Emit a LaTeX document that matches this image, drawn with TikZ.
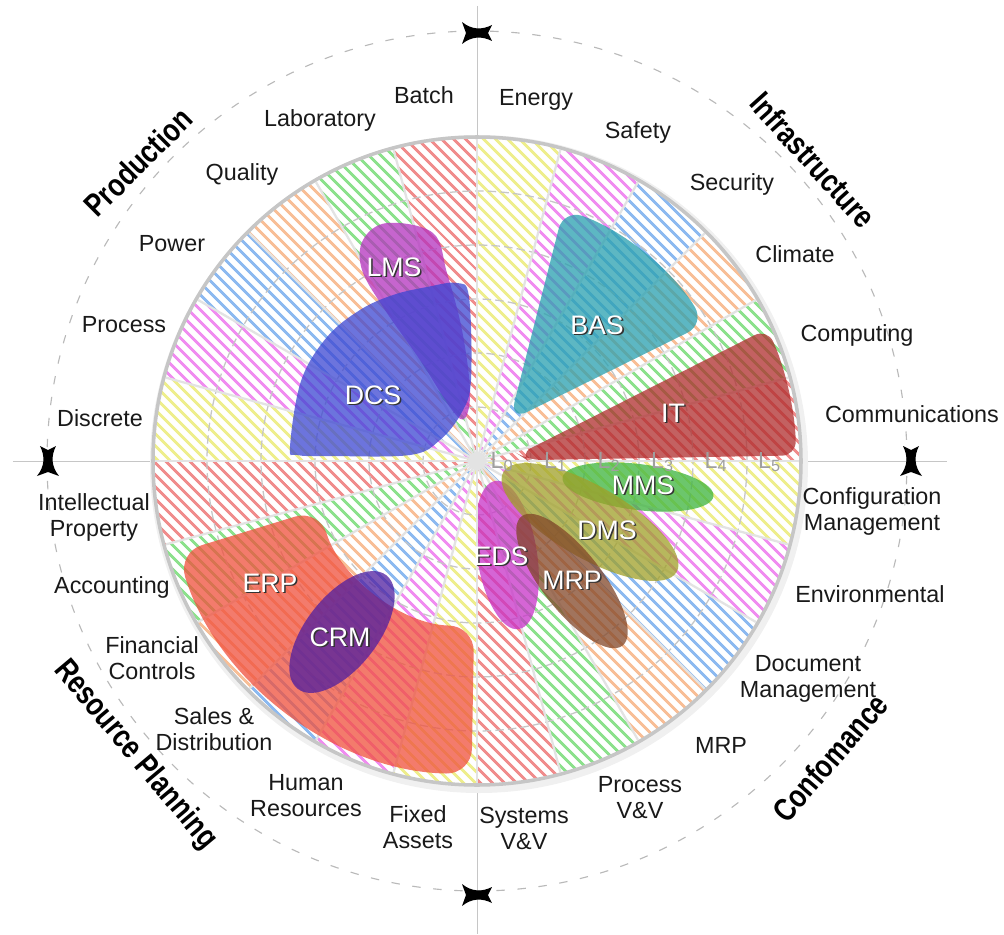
\documentclass[tikz,border=0pt]{standalone}
\usepackage{fontspec}
\setmainfont{Liberation Sans}
\newfontfamily\catfont[FakeStretch=0.81]{Liberation Sans}
\usetikzlibrary{patterns.meta}

\definecolor{hred}{RGB}{240,140,140}
\definecolor{hgreen}{RGB}{140,225,140}
\definecolor{horange}{RGB}{248,190,150}
\definecolor{hblue}{RGB}{140,185,240}
\definecolor{hmagenta}{RGB}{240,140,240}
\definecolor{hyellow}{RGB}{238,238,140}
\definecolor{lmscol}{RGB}{180,50,190}
\definecolor{dcscol}{RGB}{60,70,210}
\definecolor{bascol}{RGB}{40,160,175}
\definecolor{itcol}{RGB}{175,45,45}
\definecolor{mmscol}{RGB}{60,180,60}
\definecolor{dmscol}{RGB}{160,160,40}
\definecolor{mrpcol}{RGB}{130,70,40}
\definecolor{edscol}{RGB}{200,50,200}
\definecolor{erpcol}{RGB}{240,80,60}
\definecolor{crmcol}{RGB}{80,30,160}

\tikzset{
  sector/.style={pattern={Lines[angle=-45,distance=6.5pt,line width=2.3pt]}},
  spoke/.style={draw=gray!22, line width=1.6pt},
  ring/.style={draw=gray!45, line width=0.9pt, dash pattern=on 6pt off 3pt},
  rim/.style={draw=gray!45, line width=2.5pt},
  orbit/.style={draw=gray!55, line width=0.8pt, dash pattern=on 6pt off 9pt},
  axisline/.style={draw=gray!45, line width=0.7pt},
  blob/.style={fill opacity=0.75},
  seclabel/.style={font=\fontsize{16.6}{18.5}\selectfont, align=center, text=black!90},
  catlabel/.style={font=\catfont\bfseries\fontsize{22.8}{26}\selectfont},
  tag/.style={font=\fontsize{19}{22}\selectfont, text=white},
  tagshade/.style={font=\fontsize{19}{22}\selectfont, text=black!80},
  lvl/.style={font=\fontsize{16.5}{18}\selectfont, text=gray!75, inner sep=0pt},
  tiemark/.pic={\fill[black] (-15,11) .. controls (-5,3) and (5,3) .. (15,8)
      -- (11,0) -- (15,-8) .. controls (5,-3) and (-5,-3) .. (-15,-11) -- (-11,0) -- cycle;}
}

\newcommand{\blobtag}[3]{%
  \node[tagshade] (#1-s) at ([shift={(1.6,-1.6)}]#2) {#3};
  \node[tag] (#1) at (#2) {#3};}

\begin{document}
\begin{tikzpicture}[x=0.025cm, y=0.025cm]
\useasboundingbox (-477,-473) rectangle (527,461);
% axes and outer orbit
\draw[axisline] (-464,0) -- (470,0);
\draw[axisline] (0,455) -- (0,-473);
\draw[orbit] (0,0) circle (430);
\pic at (0,428) {tiemark};
\pic at (0,-434) {tiemark};
\pic[rotate=90] at (-429,0) {tiemark};
\pic[rotate=90] at (434,0) {tiemark};

% disk
\fill[gray!12] (2,-3) circle (329);
\fill[white] (0,0) circle (324);
\foreach \q in {0,90,180,270}
  \foreach \c [count=\k from 0] in {hred,hgreen,horange,hblue,hmagenta,hyellow}
    \fill[sector, pattern color=\c] (0,0) -- ({\q+15*\k}:324)
      arc[start angle={\q+15*\k}, delta angle=15, radius=324] -- cycle;
\foreach \r in {54,108,162,216,270}
  \draw[ring] (0,0) circle (\r);
\foreach \a in {0,15,...,345}
  \draw[spoke] (0,0) -- (\a:322);

% systems
\fill[blob, fill=lmscol] plot[smooth cycle, tension=0.6] coordinates {(-90,238) (-44,228) (-30,188)
  (-15,131) (-7,71) (-12,43) (-25,51) (-57,101) (-92,151) (-115,191) (-114,221)};
\fill[blob, fill=dcscol] plot[smooth cycle, tension=0.6] coordinates {(-187,14) (-176,80) (-150,124)
  (-117,151) (-84,166) (-50,174) (-20,178) (-8,164) (-6,81) (-15,49) (-37,21) (-67,6) (-147,5) (-180,6)};
\fill[blob, fill=bascol, rounded corners=14pt] (51:52) -- (71:266)
  arc[start angle=71, end angle=31, radius=266] -- cycle;
\fill[blob, fill=itcol, rounded corners=10pt] (9:42) -- (24.5:319)
  arc[start angle=24.5, end angle=1, radius=319] -- (1:50) -- cycle;
\begin{scope}
  \clip (1,0) rectangle (320,-320);
  \fill[blob, fill=edscol, shift={(30,-94)}, rotate=-81] (0,0) ellipse [x radius=75, y radius=30];
\end{scope}
\fill[blob, fill=mmscol, shift={(161,-26)}, rotate=-7] (0,0) ellipse [x radius=76, y radius=23];
\fill[blob, fill=dmscol, shift={(113,-61)}, rotate=-30] (0,0) ellipse [x radius=100, y radius=36];
\fill[blob, fill=mrpcol, shift={(95,-120)}, rotate=-52] (0,0) ellipse [x radius=82, y radius=30];
\fill[blob, fill=erpcol, rounded corners=18pt] (197:313)
  arc[start angle=197, end angle=269, radius=313] -- (269:165)
  arc[start angle=269, end angle=197, radius=165] -- cycle;
\fill[blob, fill=crmcol, shift={(-135,-171)}, rotate=52] (0,0) ellipse [x radius=72, y radius=36];
\draw[rim] (0,0) circle (324);

% levels
\foreach \k in {0,...,5}
  \node[lvl] (L\k) at ({25+53.5*\k},-1) {L\textsubscript{\k}};

\blobtag{lms}{-83,194}{LMS}
\blobtag{dcs}{-104,66}{DCS}
\blobtag{bas}{120,136}{BAS}
\blobtag{it}{196,48}{IT}
\blobtag{mms}{166,-24}{MMS}
\blobtag{dms}{130,-69}{DMS}
\blobtag{mrp}{95,-119}{MRP}
\blobtag{eds}{24,-95}{EDS}
\blobtag{erp}{-207,-122}{ERP}
\blobtag{crm}{-137,-176}{CRM}

% sector names
\node[seclabel] (energy) at (59,361) {Energy};
\node[seclabel] (safety) at (161,329) {Safety};
\node[seclabel] (security) at (255,277) {Security};
\node[seclabel] (climate) at (318,207) {Climate};
\node[seclabel] (computing) at (380,126) {Computing};
\node[seclabel] (communications) at (435,47) {Communications};
\node[seclabel] (batch) at (-53,366) {Batch};
\node[seclabel] (laboratory) at (-157,341) {Laboratory};
\node[seclabel] (quality) at (-235,287) {Quality};
\node[seclabel] (power) at (-305,217) {Power};
\node[seclabel] (process) at (-353,136) {Process};
\node[seclabel] (discrete) at (-377,43) {Discrete};
\node[seclabel] (ip) at (-383,-56) {Intellectual\\Property};
\node[seclabel] (accounting) at (-365,-126) {Accounting};
\node[seclabel] (financial) at (-325,-197) {Financial\\Controls};
\node[seclabel] (sales) at (-263,-268) {Sales \&\\Distribution};
\node[seclabel] (hr) at (-171,-335) {Human\\Resources};
\node[seclabel] (fixed) at (-59,-366) {Fixed\\Assets};
\node[seclabel] (sysvv) at (47,-367) {Systems\\V\&V};
\node[seclabel] (procvv) at (163,-337) {Process\\V\&V};
\node[seclabel] (mrpname) at (244,-284) {MRP};
\node[seclabel] (docmgmt) at (331,-218) {Document\\Management};
\node[seclabel] (environmental) at (393,-133) {Environmental};
\node[seclabel] (config) at (395,-50) {Configuration\\Management};

% groups
\node[catlabel, rotate=45] (production) at (-339,299) {Production};
\node[catlabel, rotate=-48] (infrastructure) at (336,301) {Infrastructure};
\node[catlabel, rotate=49] (conformance) at (353,-297) {Confomance};
\node[catlabel, rotate=-50] (resource) at (-342,-294) {Resource Planning};
\end{tikzpicture}
\end{document}
